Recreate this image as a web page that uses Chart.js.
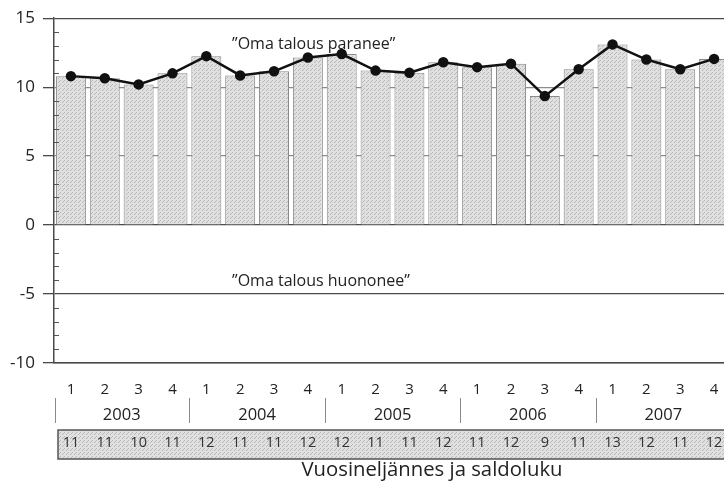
<!DOCTYPE html>
<html><head><meta charset="utf-8">
<script src="https://cdn.jsdelivr.net/npm/chart.js@4.4.1/dist/chart.umd.min.js"></script>
<style>
html,body{margin:0;padding:0;overflow:hidden;background:#fff;width:724px;height:489px;}
#wrap{position:relative;width:742px;height:489px;}
canvas{display:block;}
</style></head><body>
<div id="wrap"><canvas id="c" width="742" height="489"></canvas></div>
<script>
// ---- data ----
const quarters = ['1','2','3','4','1','2','3','4','1','2','3','4','1','2','3','4','1','2','3','4'];
const years = ['2003','2004','2005','2006','2007'];
const saldo = [10.8, 10.65, 10.2, 11.0, 12.25, 10.85, 11.15, 12.15, 12.4, 11.2,
               11.05, 11.8, 11.45, 11.7, 9.35, 11.3, 13.1, 12.0, 11.3, 12.05];
const saldoluku = [11, 11, 10, 11, 12, 11, 11, 12, 12, 11, 11, 12, 11, 12, 9, 11, 13, 12, 11, 12];
const noteTexts = ['”Oma talous paranee”', '”Oma talous huononee”'];
const axisTitle = 'Vuosineljännes ja saldoluku';

const FONT = 'Open Sans';
const TXT = '#222';

function makePattern(){
  const c = document.createElement('canvas'); c.width = 4; c.height = 4;
  const g = c.getContext('2d');
  g.fillStyle = '#e0e0e0'; g.fillRect(0,0,4,4);
  g.fillStyle = '#b8b8b8';
  g.fillRect(0,0,1,1); g.fillRect(2,2,1,1); g.fillRect(3,1,1,1);
  return g.createPattern(c, 'repeat');
}
const pat = makePattern();

const decor = {
  id: 'decor',
  afterDatasetsDraw(chart){
    const ctx = chart.ctx, y = chart.scales.y, a = chart.chartArea;
    ctx.save();
    ctx.strokeStyle = '#555'; ctx.lineWidth = 1;
    for (let v = y.min; v <= y.max; v++) {
      if (v % 5 === 0) continue;
      const py = Math.round(y.getPixelForValue(v)) + 0.5;
      ctx.beginPath(); ctx.moveTo(a.left, py); ctx.lineTo(a.left + 5, py); ctx.stroke();
    }
    ctx.restore();
  },
  afterDraw(chart){
    const ctx = chart.ctx, x = chart.scales.x, y = chart.scales.y, a = chart.chartArea;
    ctx.save();
    // annotations
    ctx.fillStyle = TXT; ctx.font = '16px "' + FONT + '"';
    ctx.textAlign = 'left'; ctx.textBaseline = 'alphabetic';
    ctx.fillText(noteTexts[0], x.getPixelForValue(4.76), y.getPixelForValue(12.8));
    ctx.fillText(noteTexts[1], x.getPixelForValue(4.76), y.getPixelForValue(-4.44));
    // year separators and labels
    const half = (x.getPixelForValue(1) - x.getPixelForValue(0)) / 2;
    ctx.strokeStyle = '#8a8a8a'; ctx.lineWidth = 1;
    for (let k = 0; k <= years.length; k++) {
      const px = Math.round(x.getPixelForValue(4*k) - half) + 0.5 + (k===0 ? 1 : 0);
      ctx.beginPath(); ctx.moveTo(px, 398); ctx.lineTo(px, 423); ctx.stroke();
    }
    ctx.font = '16.5px "' + FONT + '"'; ctx.textAlign = 'center';
    years.forEach((yr, k) => {
      const cx = (x.getPixelForValue(4*k) + x.getPixelForValue(4*k+3)) / 2;
      ctx.fillText(yr, cx, 420);
    });
    // saldo box
    ctx.fillStyle = pat;
    ctx.fillRect(a.left + 4, 430, chart.width, 29);
    ctx.strokeStyle = '#555'; ctx.lineWidth = 1.5;
    ctx.strokeRect(a.left + 4, 430, chart.width, 29);
    ctx.fillStyle = '#333'; ctx.font = '14.5px "' + FONT + '"';
    saldoluku.forEach((v, i) => ctx.fillText(String(v), x.getPixelForValue(i), 447));
    // axis title
    ctx.fillStyle = TXT; ctx.font = '20.3px "' + FONT + '"';
    ctx.fillText(axisTitle, 432, 476);
    ctx.restore();
  }
};

new Chart(document.getElementById('c'), {
  data: {
    labels: quarters,
    datasets: [
      { type: 'line', data: saldo, borderColor: '#111', borderWidth: 2.5,
        pointRadius: 4, pointBackgroundColor: '#111', pointBorderColor: '#111', tension: 0, order: 0 },
      { type: 'bar', data: saldo, backgroundColor: pat, borderColor: '#8a8a8a', borderWidth: 1,
        barPercentage: 0.885, categoryPercentage: 1, order: 1 }
    ]
  },
  options: {
    responsive: false, animation: false,
    layout: { padding: { top: 17, right: 11, bottom: 86, left: 0 } },
    plugins: { legend: { display: false }, tooltip: { enabled: false } },
    scales: {
      x: {
        offset: true,
        grid: { display: false },
        border: { color: '#4a4a4a', width: 1.5 },
        ticks: { color: TXT, font: { family: FONT, size: 15 }, padding: 10, maxRotation: 0, autoSkip: false },
        afterFit: s => { s.height = 40; }
      },
      y: {
        min: -10, max: 15,
        ticks: { stepSize: 5, color: TXT, font: { family: FONT, size: 17 }, padding: 8 },
        grid: {
          color: c => (c.tick && (c.tick.value === 5 || c.tick.value === 10)) ? '#8c8c8c' : '#4a4a4a',
          tickColor: '#4a4a4a', lineWidth: 1.3, tickLength: 11
        },
        border: { color: '#4a4a4a', width: 1.5 },
        afterFit: s => { s.width = 54; }
      }
    }
  },
  plugins: [decor]
});
</script>
</body></html>
